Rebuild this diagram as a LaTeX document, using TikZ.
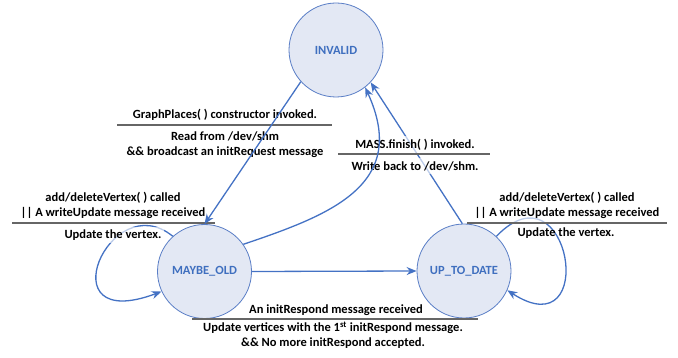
\documentclass[tikz,border=0pt]{standalone}
\usepackage{fontspec}
\setmainfont{Carlito}
\usetikzlibrary{arrows.meta}
\definecolor{edgeblue}{HTML}{4472C4}
\definecolor{statefill}{HTML}{E3E8F4}
\definecolor{stateline}{HTML}{5A7EC6}
\definecolor{statetext}{HTML}{3F6FBF}

\begin{document}
\begin{tikzpicture}[x=1pt,y=-1pt,
  state/.style={circle, draw=stateline, line width=0.8pt, fill=statefill,
    minimum size=94pt, inner sep=0pt,
    font=\fontsize{12.5}{14}\selectfont\bfseries, text=statetext},
  trans/.style={draw=edgeblue, line width=1.3pt, -{Stealth[length=10pt,width=8pt]}},
  lbl/.style={font=\fontsize{12.5}{15}\selectfont\bfseries, align=center, inner sep=1pt},
  veil/.style={fill=white, fill opacity=0.65, text opacity=1, inner sep=3pt},
  divider/.style={draw=black!60, line width=1.1pt}]

\useasboundingbox (0,0) rectangle (678,358);

% states
\node[state] (inv) at (336,50)      {INVALID};
\node[state] (mo)  at (204.5,271.5) {MAYBE\_OLD};
\node[state] (utd) at (464,271)     {UP\_TO\_DATE};

% transitions partly hidden behind the labels
\draw[trans] (mo.132) .. controls (110,185) and (45,335) .. (mo.205);
\draw[trans] (utd.47) .. controls (570,160) and (600,350) .. (utd.-24);
\draw[trans] (utd.92) -- (inv.-43);

% INVALID -> MAYBE_OLD label
\node[lbl] (cA) at (225,115) {GraphPlaces( ) constructor invoked.};
\coordinate (dA1) at (117,125); \coordinate (dA2) at (332,125);
\draw[divider] (dA1) -- (dA2);
\node[lbl] (aA) at (225,144.5) {Read from /dev/shm\\\&\& broadcast an initRequest message};

% MAYBE_OLD self loop label
\node[lbl,veil] (cL) at (113,205.5) {add/deleteVertex( ) called\\|| A writeUpdate message received};
\coordinate (dL1) at (12,223); \coordinate (dL2) at (215,223);
\draw[divider] (dL1) -- (dL2);
\node[lbl,veil] (aL) at (113,235) {Update the vertex.};

% MAYBE_OLD -> INVALID label
\node[lbl,veil] (cM) at (415,145) {MASS.finish( ) invoked.};
\coordinate (dM1) at (338,154); \coordinate (dM2) at (490,154);
\draw[divider] (dM1) -- (dM2);
\node[lbl,veil] (aM) at (415,166) {Write back to /dev/shm.};

% UP_TO_DATE self loop label
\node[lbl,veil] (cR) at (567,205.5) {add/deleteVertex( ) called\\|| A writeUpdate message received};
\coordinate (dR1) at (467,223); \coordinate (dR2) at (667,223);
\draw[divider] (dR1) -- (dR2);
\node[lbl] (aR) at (566,233.5) {Update the vertex.};

% MAYBE_OLD -> UP_TO_DATE label
\node[lbl] (cB) at (336,310) {An initRespond message received};
\coordinate (dB1) at (192,319); \coordinate (dB2) at (478,319);
\draw[divider] (dB1) -- (dB2);
\node[lbl] (aB) at (333,335.5) {Update vertices with the 1\textsuperscript{st} initRespond message.\\\&\& No more initRespond accepted.};

% transitions drawn over the labels
\draw[trans] (inv.222) -- (mo.90);
\draw[trans] (mo.35) .. controls (330,215) and (410,185) .. (inv.-52);
\draw[trans] (mo.east) -- (utd.west);

\end{tikzpicture}
\end{document}
